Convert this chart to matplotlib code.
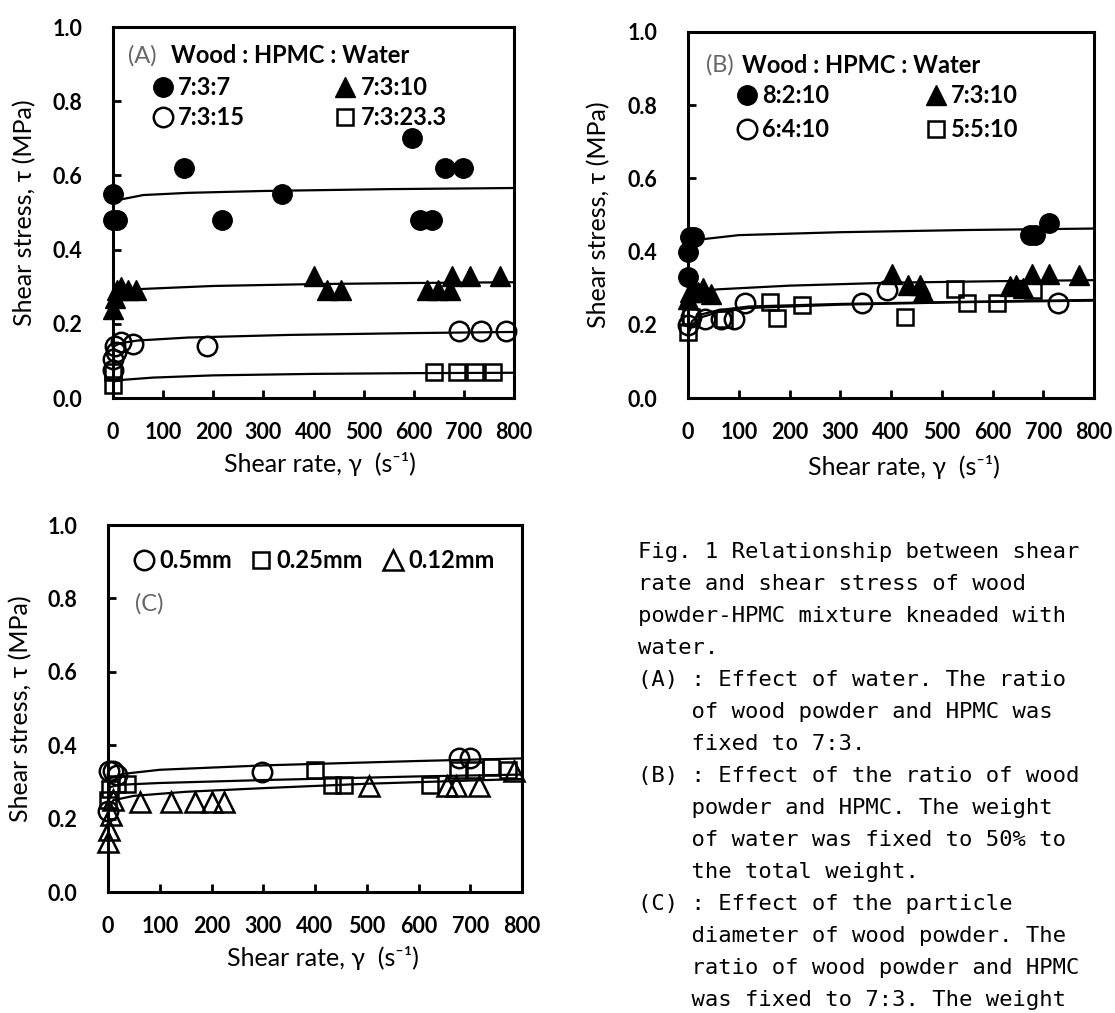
import matplotlib
matplotlib.use('Agg')
import matplotlib.pyplot as plt

plt.rcParams['font.family'] = ['Lato', 'DejaVu Sans']

# ---------------- data ----------------
x_ticks = [0, 100, 200, 300, 400, 500, 600, 700, 800]
y_ticks = [0.0, 0.2, 0.4, 0.6, 0.8, 1.0]

# Panel A : effect of water (Wood:HPMC:Water)
A_labels = ['7:3:7', '7:3:10', '7:3:15', '7:3:23.3']
A737_x = [0, 0, 8, 141, 217, 337, 596, 612, 637, 662, 698]
A737_y = [0.55, 0.48, 0.48, 0.62, 0.48, 0.55, 0.70, 0.48, 0.48, 0.62, 0.62]
A7310_x = [0, 3, 8, 15, 30, 45, 401, 426, 455, 626, 648, 673, 676, 712, 773]
A7310_y = [0.24, 0.27, 0.29, 0.30, 0.29, 0.29, 0.33, 0.29, 0.29, 0.29, 0.29, 0.29, 0.33, 0.33, 0.33]
A7315_x = [0, 0, 5, 3, 15, 40, 188, 690, 735, 785]
A7315_y = [0.105, 0.075, 0.125, 0.14, 0.15, 0.145, 0.14, 0.18, 0.18, 0.18]
A73233_x = [0, 0, 641, 687, 723, 759]
A73233_y = [0.035, 0.07, 0.07, 0.07, 0.07, 0.07]
# fitted curves
A737_fit_x = [3, 15, 60, 150, 300, 550, 800]
A737_fit_y = [0.525, 0.535, 0.547, 0.553, 0.558, 0.563, 0.566]
A7310_fit_x = [3, 20, 60, 200, 400, 600, 800]
A7310_fit_y = [0.28, 0.288, 0.294, 0.302, 0.307, 0.31, 0.312]
A7315_fit_x = [3, 15, 50, 150, 350, 600, 800]
A7315_fit_y = [0.14, 0.148, 0.155, 0.163, 0.17, 0.175, 0.178]
A73233_fit_x = [3, 20, 80, 200, 400, 600, 800]
A73233_fit_y = [0.045, 0.049, 0.055, 0.061, 0.065, 0.067, 0.068]

# Panel B : ratio of wood powder and HPMC
B_labels = ['8:2:10', '7:3:10', '6:4:10', '5:5:10']
B8210_x = [0, 0, 3, 12, 674, 684, 712]
B8210_y = [0.33, 0.40, 0.44, 0.44, 0.445, 0.445, 0.477]
B7310_x = [0, 3, 10, 20, 30, 45, 401, 434, 457, 464, 634, 647, 660, 677, 712, 770]
B7310_y = [0.27, 0.29, 0.30, 0.29, 0.30, 0.285, 0.34, 0.31, 0.31, 0.29, 0.305, 0.31, 0.30, 0.34, 0.34, 0.335]
B6410_x = [0, 5, 33, 65, 90, 112, 343, 392, 730]
B6410_y = [0.20, 0.22, 0.215, 0.215, 0.215, 0.26, 0.26, 0.295, 0.26]
B5510_x = [0, 5, 70, 162, 175, 224, 427, 526, 549, 608, 680]
B5510_y = [0.18, 0.22, 0.215, 0.263, 0.218, 0.255, 0.222, 0.298, 0.259, 0.259, 0.295]
B8210_fit_x = [3, 15, 30, 100, 300, 550, 800]
B8210_fit_y = [0.42, 0.428, 0.434, 0.445, 0.453, 0.459, 0.463]
B7310_fit_x = [3, 20, 60, 200, 400, 600, 800]
B7310_fit_y = [0.285, 0.292, 0.297, 0.307, 0.315, 0.319, 0.322]
B6410_fit_x = [2, 8, 25, 60, 120, 300, 550, 800]
B6410_fit_y = [0.19, 0.21, 0.228, 0.24, 0.25, 0.257, 0.263, 0.268]
B5510_fit_x = [2, 8, 25, 60, 120, 300, 550, 800]
B5510_fit_y = [0.18, 0.20, 0.22, 0.235, 0.246, 0.255, 0.262, 0.266]

# Panel C : particle diameter
C_labels = ['0.5mm', '0.25mm', '0.12mm']
C05_x = [0, 2, 10, 18, 298, 678, 700]
C05_y = [0.22, 0.33, 0.33, 0.32, 0.327, 0.365, 0.365]
C025_x = [0, 3, 17, 37, 400, 433, 457, 622, 677, 709, 741, 772]
C025_y = [0.25, 0.28, 0.295, 0.295, 0.332, 0.292, 0.292, 0.292, 0.332, 0.332, 0.34, 0.332]
C012_x = [0, 2, 5, 10, 62, 121, 168, 200, 224, 505, 655, 673, 716, 785]
C012_y = [0.135, 0.17, 0.21, 0.25, 0.245, 0.245, 0.245, 0.245, 0.245, 0.288, 0.288, 0.288, 0.288, 0.33]
C05_fit_x = [5, 30, 100, 300, 600, 800]
C05_fit_y = [0.31, 0.322, 0.333, 0.345, 0.357, 0.364]
C025_fit_x = [3, 20, 100, 300, 600, 800]
C025_fit_y = [0.285, 0.292, 0.297, 0.305, 0.315, 0.32]
C012_fit_x = [3, 10, 50, 150, 300, 500, 800]
C012_fit_y = [0.23, 0.25, 0.262, 0.273, 0.283, 0.295, 0.308]

caption_lines = [
    "Fig. 1 Relationship between shear",
    "rate and shear stress of wood",
    "powder-HPMC mixture kneaded with",
    "water.",
    "(A) : Effect of water. The ratio",
    "    of wood powder and HPMC was",
    "    fixed to 7:3.",
    "(B) : Effect of the ratio of wood",
    "    powder and HPMC. The weight",
    "    of water was fixed to 50% to",
    "    the total weight.",
    "(C) : Effect of the particle",
    "    diameter of wood powder. The",
    "    ratio of wood powder and HPMC",
    "    was fixed to 7:3. The weight",
]

# ---------------- styling ----------------
W, H = 1115, 1013
fig = plt.figure(figsize=(W / 100, H / 100), dpi=100)


def axes_px(left, top, right, bottom):
    return fig.add_axes([left / W, 1 - bottom / H, (right - left) / W, (bottom - top) / H])


axA = axes_px(113, 27, 514, 398)
axB = axes_px(688, 32, 1094, 398)
axC = axes_px(108, 525, 522, 892)

FS = 17
LFS = 18
XLAB = 'Shear rate, \u03b3  (s\u207b\u00b9)'
YLAB = 'Shear stress, \u03c4 (MPa)'


def style(ax, ylab_x, xlab_xy):
    ax.set_xlim(0, 800)
    ax.set_ylim(0, 1)
    ax.set_xticks(x_ticks)
    ax.set_yticks(y_ticks)
    ax.set_yticklabels(['%.1f' % v for v in y_ticks])
    ax.tick_params(direction='in', length=6, width=2, top=False, right=False,
                   labelsize=15.5)
    ax.tick_params(axis='y', pad=22)
    ax.tick_params(axis='x', pad=17)
    for lab in ax.get_xticklabels() + ax.get_yticklabels():
        lab.set_fontweight('bold')
    for s in ax.spines.values():
        s.set_linewidth(2.2)
    ax.set_xlabel(XLAB, fontsize=LFS)
    ax.set_ylabel(YLAB, fontsize=LFS)
    ax.xaxis.set_label_coords(*xlab_xy)
    ax.yaxis.set_label_coords(ylab_x, 0.5)


def pts(ax, x, y, marker, filled, ms, label=None):
    if filled:
        kw = dict(mfc='black', mec='black')
    else:
        kw = dict(mfc='none', mec='black', mew=1.8)
    return ax.plot(x, y, linestyle='none', marker=marker, ms=ms, clip_on=False,
                   zorder=3, label=label, **kw)[0]


def fit(ax, x, y):
    ax.plot(x, y, color='black', lw=1.6, zorder=2)


MS_C, MS_T, MS_S = 14, 15, 11.5
leg_common = dict(loc='upper left', frameon=False, borderpad=0, borderaxespad=0,
                  handlelength=1.0, handletextpad=0.15,
                  prop={'size': FS, 'weight': 'bold'})

# Panel A
style(axA, -0.192, (0.517, -0.146))
fit(axA, A737_fit_x, A737_fit_y)
fit(axA, A7310_fit_x, A7310_fit_y)
fit(axA, A7315_fit_x, A7315_fit_y)
fit(axA, A73233_fit_x, A73233_fit_y)
hA1 = pts(axA, A737_x, A737_y, 'o', True, MS_C, A_labels[0])
hA2 = pts(axA, A7310_x, A7310_y, '^', True, MS_T, A_labels[1])
hA3 = pts(axA, A7315_x, A7315_y, 'o', False, MS_C, A_labels[2])
hA4 = pts(axA, A73233_x, A73233_y, 's', False, MS_S, A_labels[3])
axA.text(0.0735, 0.922, '(A)', transform=axA.transAxes, ha='center', va='center',
         fontsize=FS, color='#666666')
axA.text(0.145, 0.922, 'Wood : HPMC : Water', transform=axA.transAxes, ha='left',
         va='center', fontsize=FS, fontweight='bold')
axA.legend(handles=[hA1, hA3, hA2, hA4], ncol=2, bbox_to_anchor=(0.095, 0.868),
           columnspacing=3.74, labelspacing=0.3, **leg_common)

# Panel B
style(axB, -0.192, (0.532, -0.156))
fit(axB, B8210_fit_x, B8210_fit_y)
fit(axB, B7310_fit_x, B7310_fit_y)
fit(axB, B6410_fit_x, B6410_fit_y)
fit(axB, B5510_fit_x, B5510_fit_y)
hB1 = pts(axB, B8210_x, B8210_y, 'o', True, MS_C, B_labels[0])
hB2 = pts(axB, B7310_x, B7310_y, '^', True, MS_T, B_labels[1])
hB3 = pts(axB, B6410_x, B6410_y, 'o', False, MS_C, B_labels[2])
hB4 = pts(axB, B5510_x, B5510_y, 's', False, MS_S, B_labels[3])
axB.text(0.079, 0.909, '(B)', transform=axB.transAxes, ha='center', va='center',
         fontsize=FS, color='#666666')
axB.text(0.132, 0.909, 'Wood : HPMC : Water', transform=axB.transAxes, ha='left',
         va='center', fontsize=FS, fontweight='bold')
axB.legend(handles=[hB1, hB3, hB2, hB4], ncol=2, bbox_to_anchor=(0.1157, 0.857),
           columnspacing=4.0, labelspacing=0.45, **leg_common)

# Panel C
style(axC, -0.184, (0.52, -0.147))
fit(axC, C05_fit_x, C05_fit_y)
fit(axC, C025_fit_x, C025_fit_y)
fit(axC, C012_fit_x, C012_fit_y)
hC1 = pts(axC, C05_x, C05_y, 'o', False, MS_C, C_labels[0])
hC2 = pts(axC, C025_x, C025_y, 's', False, MS_S, C_labels[1])
hC3 = pts(axC, C012_x, C012_y, '^', False, MS_T, C_labels[2])
axC.text(0.1, 0.786, '(C)', transform=axC.transAxes, ha='center', va='center',
         fontsize=FS, color='#666666')
axC.legend(handles=[hC1, hC2, hC3], ncol=3, bbox_to_anchor=(0.058, 0.935),
           columnspacing=0.75, **leg_common)

# Caption
for i, line in enumerate(caption_lines):
    fig.text(638 / W, 1 - (552 + i * 32.0) / H, line, ha='left', va='center',
             fontsize=16, family=['DejaVu Sans Mono'])

fig.savefig('out.png', dpi=100)
